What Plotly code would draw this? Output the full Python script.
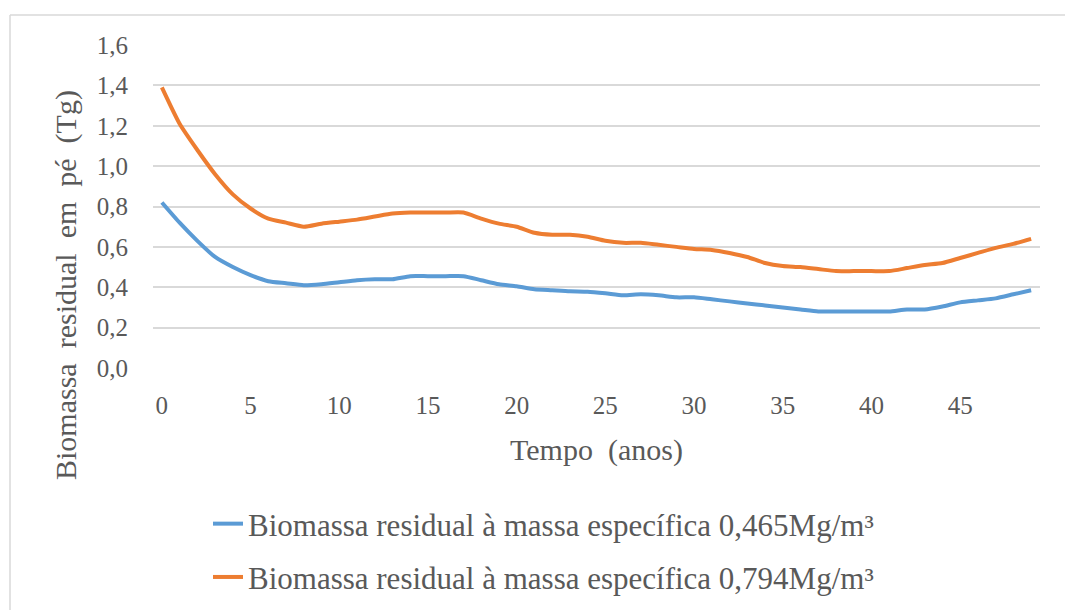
import plotly.graph_objects as go

# Residual standing biomass (Tg) over time (years)
anos = list(range(50))

biomassa_0465 = [
    0.82, 0.72, 0.63, 0.55, 0.50, 0.46, 0.43, 0.42, 0.41, 0.415,
    0.425, 0.435, 0.44, 0.44, 0.455, 0.455, 0.455, 0.455, 0.435, 0.415,
    0.405, 0.39, 0.385, 0.38, 0.378, 0.37, 0.36, 0.365, 0.36, 0.35,
    0.35, 0.34, 0.33, 0.32, 0.31, 0.30, 0.29, 0.28, 0.28, 0.28,
    0.28, 0.28, 0.29, 0.29, 0.305, 0.325, 0.335, 0.345, 0.365, 0.385,
]

biomassa_0794 = [
    1.39, 1.21, 1.08, 0.96, 0.86, 0.79, 0.74, 0.72, 0.70, 0.715,
    0.725, 0.735, 0.75, 0.765, 0.77, 0.77, 0.77, 0.77, 0.74, 0.715,
    0.70, 0.67, 0.66, 0.66, 0.65, 0.63, 0.62, 0.62, 0.61, 0.60,
    0.59, 0.585, 0.57, 0.55, 0.52, 0.505, 0.50, 0.49, 0.48, 0.48,
    0.48, 0.48, 0.495, 0.51, 0.52, 0.545, 0.57, 0.595, 0.615, 0.64,
]

nomes = [
    "Biomassa residual à massa específica 0,465Mg/m³",
    "Biomassa residual à massa específica 0,794Mg/m³",
]
cores = ["#5B9BD5", "#ED7D31"]

x_ticks = list(range(0, 50, 5))
y_ticks = [0.0, 0.2, 0.4, 0.6, 0.8, 1.0, 1.2, 1.4, 1.6]
y_labels = [f"{v:.1f}".replace(".", ",") for v in y_ticks]

FONT = "Liberation Serif"
GREY = "#595959"

fig = go.Figure()
for serie, nome, cor, grupo in zip([biomassa_0465, biomassa_0794], nomes, cores, ["a", "b"]):
    fig.add_trace(go.Scatter(
        x=anos, y=serie, mode="lines", name=nome, legendgroup=grupo,
        line=dict(color=cor, width=4, shape="spline", smoothing=0.6),
    ))

# plot area in pixels: x 153..1040, y 45..368
L, R, T, B = 153, 1040, 45, 368
W, H = R - L, B - T

def px(x):
    return (x - L) / W

def py(y):
    return (B - y) / H

# chart border (left and top edges)
fig.add_shape(type="line", xref="paper", yref="paper",
              x0=px(10), x1=px(10), y0=py(15), y1=py(612),
              line=dict(color="#D9D9D9", width=1.5))
fig.add_shape(type="line", xref="paper", yref="paper",
              x0=px(10), x1=px(1070), y0=py(15), y1=py(15),
              line=dict(color="#D9D9D9", width=1.5))

# vertical axis title, centred lower than the plot area
fig.add_annotation(
    text="Biomassa  residual  em  pé  (Tg)", textangle=-90,
    xref="paper", yref="paper", x=px(66), y=py(285),
    xanchor="center", yanchor="middle", showarrow=False,
    font=dict(family=FONT, size=30, color=GREY),
)

fig.update_layout(
    width=1065, height=610,
    margin=dict(l=L, r=1065 - R, t=T, b=610 - B, autoexpand=False),
    paper_bgcolor="white", plot_bgcolor="white",
    font=dict(family=FONT, color=GREY, size=24),
    showlegend=True,
    legend=dict(
        x=px(208), y=py(497), xanchor="left", yanchor="top",
        font=dict(family=FONT, size=31, color=GREY),
        traceorder="grouped", tracegroupgap=10,
        itemwidth=30, bgcolor="rgba(0,0,0,0)",
    ),
    xaxis=dict(
        range=[-0.5, 49.5], tickmode="array", tickvals=x_ticks,
        ticktext=[str(v) for v in x_ticks],
        showgrid=False, zeroline=False, showline=False, ticks="",
        ticklabelstandoff=20, automargin=False,
        tickfont=dict(family=FONT, size=25, color=GREY),
        title=dict(text="Tempo  (anos)", font=dict(family=FONT, size=30, color=GREY), standoff=20),
    ),
    yaxis=dict(
        range=[0, 1.6], tickmode="array", tickvals=y_ticks, ticktext=y_labels,
        showgrid=True, gridcolor="#D9D9D9", gridwidth=1.5,
        zeroline=False, showline=False, ticks="",
        ticklabelstandoff=24, automargin=False,
        tickfont=dict(family=FONT, size=25, color=GREY),
    ),
)

fig.write_html("out.html")
